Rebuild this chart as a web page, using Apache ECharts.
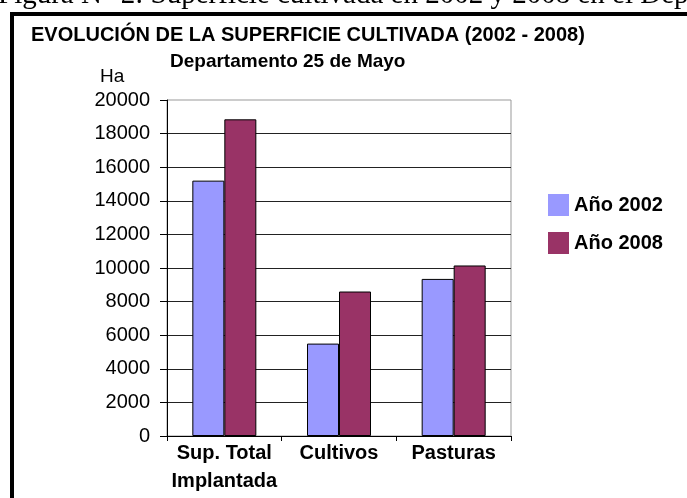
<!DOCTYPE html>
<html>
<head>
<meta charset="utf-8">
<script src="https://cdn.jsdelivr.net/npm/echarts@6/dist/echarts.min.js"></script>
<style>
    html, body { margin: 0; padding: 0; background: #fff; }
    #chart { width: 687px; height: 498px; }
</style>
</head>
<body>
<div id="chart"></div>
<script>
// datos
var categorias = ['Sup. Total\nImplantada', 'Cultivos', 'Pasturas'];
var anio2002 = [15200, 5500, 9350];
var anio2008 = [18850, 8600, 10150];
var series = ['Año 2002', 'Año 2008'];
var ticksY = {min: 0, max: 20000, interval: 2000};

var fuente = 'Liberation Sans, Arial, sans-serif';
var myChart = echarts.init(document.getElementById('chart'));
var option = {
    backgroundColor: '#fff',
    animation: false,
    graphic: [
        // leyenda de la figura (cortada arriba)
        {
            type: 'text', left: -2, top: -19, z: 1,
            style: {
                text: 'Figura N° 2: Superficie cultivada en 2002 y 2008 en el Departamento 25 de Mayo',
                font: '29px "Liberation Serif", "Times New Roman", serif',
                fill: '#000'
            }
        },
        // marco negro
        {
            type: 'rect', z: 1,
            shape: {x: 12, y: 14, width: 800, height: 600},
            style: {fill: 'none', stroke: '#000', lineWidth: 4}
        },
        {
            type: 'text', left: 31, top: 25,
            style: {
                text: 'EVOLUCIÓN DE LA SUPERFICIE CULTIVADA (2002 - 2008)',
                font: 'bold 20px ' + fuente,
                fill: '#000'
            }
        },
        {
            type: 'text', left: 170, top: 52,
            style: {text: 'Departamento 25 de Mayo', font: 'bold 19px ' + fuente, fill: '#000'}
        },
        {
            type: 'text', left: 100, top: 67,
            style: {text: 'Ha', font: '19px ' + fuente, fill: '#000'}
        }
    ],
    grid: {
        left: 167,
        right: 176,
        top: 100,
        bottom: 62,
        show: true,
        borderColor: '#999',
        borderWidth: 1
    },
    legend: {
        orient: 'vertical',
        left: 543,
        top: 189,
        icon: 'rect',
        itemWidth: 21,
        itemHeight: 22,
        itemGap: 16,
        itemStyle: {borderWidth: 0},
        textStyle: {
            color: '#000',
            fontSize: 20,
            fontWeight: 'bold',
            fontFamily: fuente
        },
        data: series
    },
    xAxis: {
        type: 'category',
        data: categorias,
        axisLine: {lineStyle: {color: '#000', width: 1}},
        axisTick: {show: true, length: 5, lineStyle: {color: '#000'}},
        axisLabel: {
            interval: 0,
            margin: 3,
            color: '#000',
            fontSize: 20,
            fontWeight: 'bold',
            fontFamily: fuente,
            lineHeight: 28
        }
    },
    yAxis: {
        type: 'value',
        min: ticksY.min,
        max: ticksY.max,
        interval: ticksY.interval,
        axisLine: {show: true, lineStyle: {color: '#000', width: 1}},
        axisTick: {show: true, length: 7, lineStyle: {color: '#000'}},
        axisLabel: {
            margin: 17,
            color: '#000',
            fontSize: 20,
            fontFamily: fuente,
            formatter: function (v) {
                return String(v);
            }
        },
        splitLine: {
            show: true,
            showMaxLine: false,
            lineStyle: {color: '#222', width: 1}
        }
    },
    series: [
        {
            name: series[0],
            type: 'bar',
            barWidth: 32,
            barGap: '0%',
            itemStyle: {color: '#9999FF', borderColor: '#000', borderWidth: 1},
            data: anio2002
        },
        {
            name: series[1],
            type: 'bar',
            barWidth: 32,
            itemStyle: {color: '#993366', borderColor: '#000', borderWidth: 1},
            data: anio2008
        }
    ]
};
myChart.setOption(option);
</script>
</body>
</html>
